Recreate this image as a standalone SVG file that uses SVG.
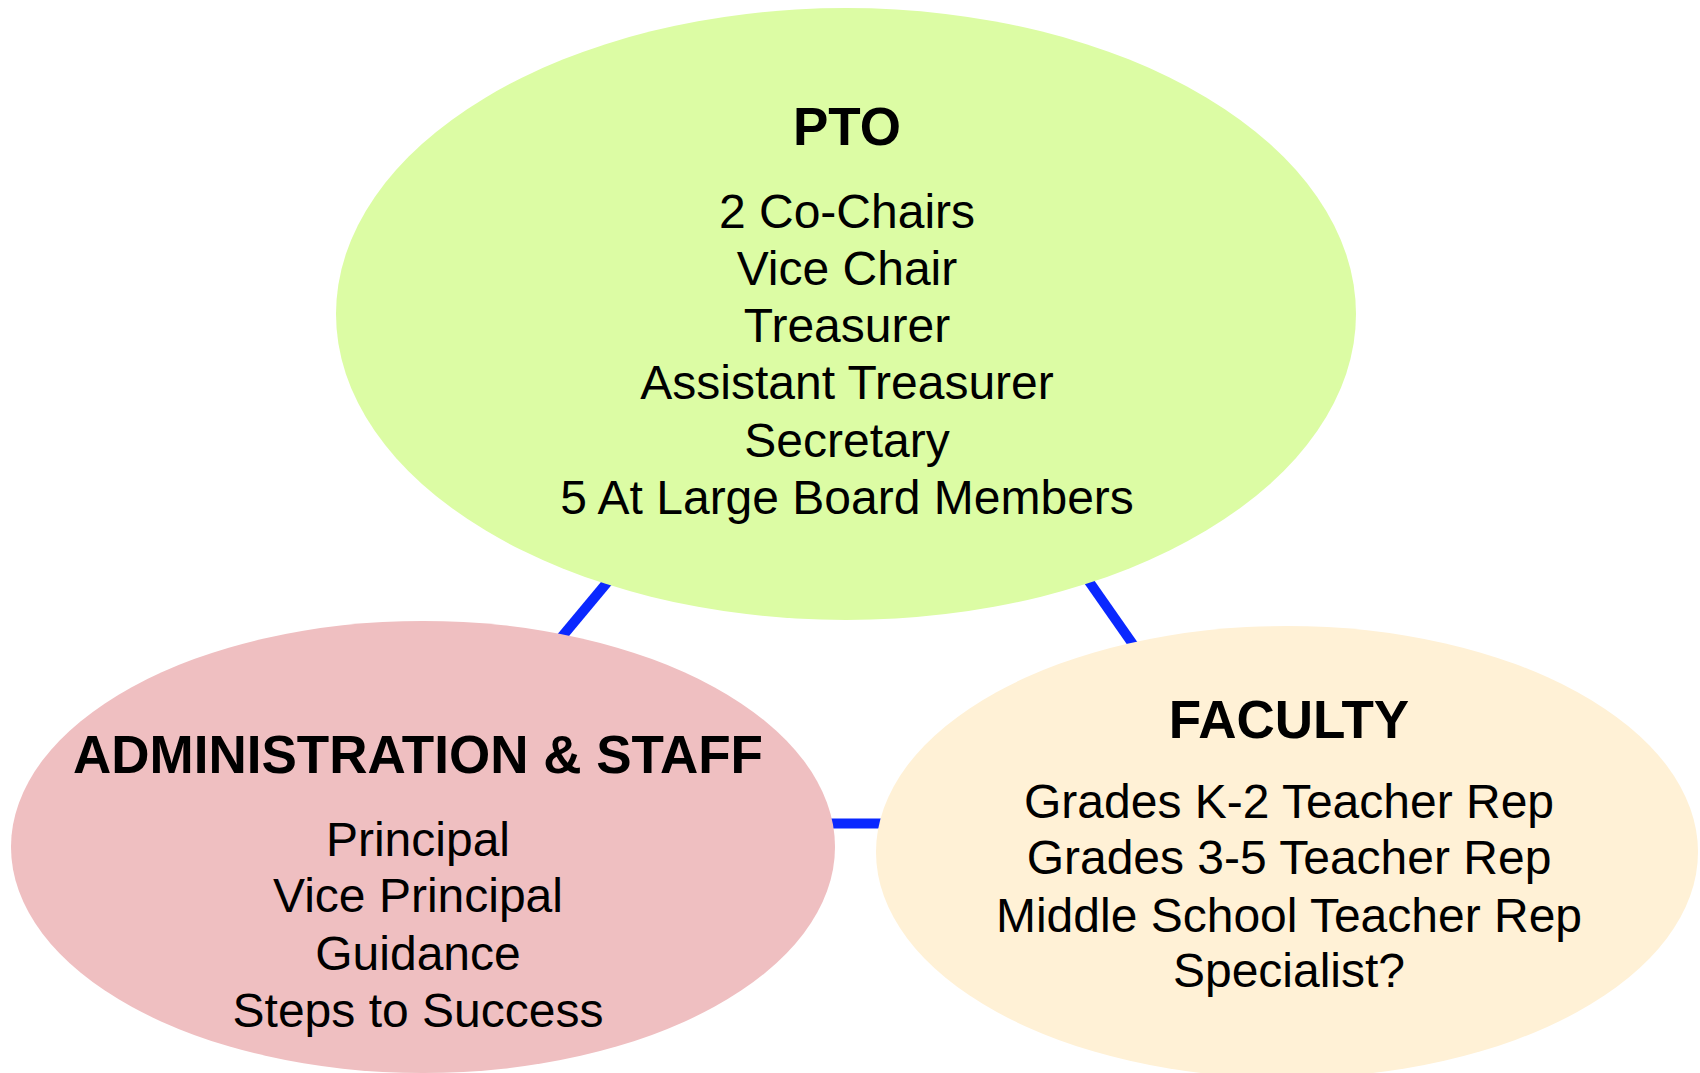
<svg xmlns="http://www.w3.org/2000/svg" width="1700" height="1073" viewBox="0 0 1700 1073">
<style>
.conn{stroke:#0a28ff;stroke-width:10;fill:none}
.title{font-family:"Liberation Sans",Arial,sans-serif;font-weight:bold;font-size:53px;fill:#000;text-anchor:middle}
.body{font-family:"Liberation Sans",Arial,sans-serif;font-size:48px;fill:#000;text-anchor:middle}
</style>
<rect width="1700" height="1073" fill="#ffffff"/>
<g id="connectors">
<line class="conn" x1="630" y1="555" x2="540" y2="663"/>
<line class="conn" x1="1060" y1="540" x2="1160" y2="683"/>
<line class="conn" x1="800" y1="823.5" x2="910" y2="823.5"/>
</g>
<g id="pto">
<ellipse cx="846" cy="314" rx="510" ry="306" fill="#dcfca4"/>
<text class="title" x="847" y="145">PTO</text>
<text class="body" x="847" y="228">2 Co-Chairs</text>
<text class="body" x="847" y="285">Vice Chair</text>
<text class="body" x="847" y="342">Treasurer</text>
<text class="body" x="847" y="399">Assistant Treasurer</text>
<text class="body" x="847" y="457">Secretary</text>
<text class="body" x="847" y="514">5 At Large Board Members</text>
</g>
<g id="admin">
<ellipse cx="423" cy="847" rx="412" ry="226" fill="#efbfc1"/>
<text class="title" x="418" y="773">ADMINISTRATION &amp; STAFF</text>
<text class="body" x="418" y="856">Principal</text>
<text class="body" x="418" y="912">Vice Principal</text>
<text class="body" x="418" y="970">Guidance</text>
<text class="body" x="418" y="1027">Steps to Success</text>
</g>
<g id="faculty">
<ellipse cx="1287" cy="852" rx="411" ry="226" fill="#fff1d6"/>
<text class="title" x="1289" y="738">FACULTY</text>
<text class="body" x="1289" y="818">Grades K-2 Teacher Rep</text>
<text class="body" x="1289" y="874">Grades 3-5 Teacher Rep</text>
<text class="body" x="1289" y="932">Middle School Teacher Rep</text>
<text class="body" x="1289" y="987">Specialist?</text>
</g>
</svg>
